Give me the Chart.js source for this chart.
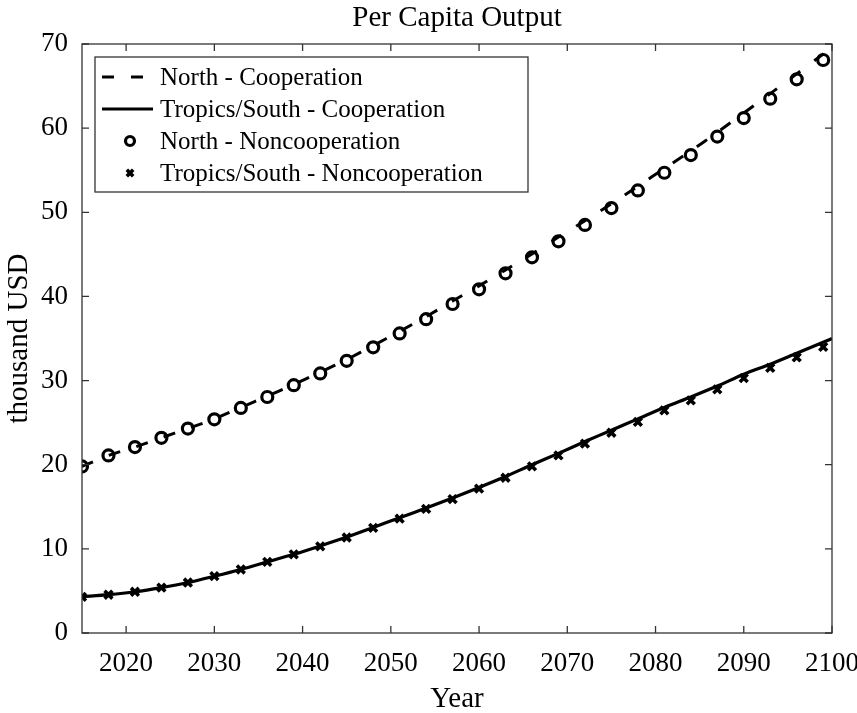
<!DOCTYPE html>
<html>
<head>
<meta charset="utf-8">
<script src="https://cdn.jsdelivr.net/npm/chart.js@4"></script>
<style>
  body { margin: 0; background: #fff; }
  #wrap { width: 857px; height: 713px; }
</style>
</head>
<body>
<div id="wrap"><canvas id="canvas"></canvas></div>
<script>
// years sampled by the noncooperation runs (every 3 years)
const markerYears = [2015, 2018, 2021, 2024, 2027, 2030, 2033, 2036, 2039, 2042, 2045, 2048, 2051, 2054,
  2057, 2060, 2063, 2066, 2069, 2072, 2075, 2078, 2081, 2084, 2087, 2090, 2093, 2096, 2099];
const northNoncoop = [19.8, 21.1, 22.1, 23.2, 24.3, 25.4, 26.75, 28.05, 29.45, 30.85, 32.35, 33.95, 35.6, 37.3,
  39.1, 40.85, 42.75, 44.65, 46.55, 48.5, 50.5, 52.6, 54.7, 56.8, 59.0, 61.2, 63.5, 65.8, 68.1];
const southNoncoop = [4.3, 4.55, 4.9, 5.4, 6.0, 6.75, 7.55, 8.45, 9.35, 10.3, 11.35, 12.5, 13.6, 14.75,
  15.9, 17.15, 18.45, 19.8, 21.1, 22.5, 23.8, 25.1, 26.45, 27.65, 28.95, 30.3, 31.5, 32.75, 34.0];

// cooperation paths run out to 2100
const lineYears = markerYears.concat([2100]);
const northCoop = [19.8, 21.1, 22.1, 23.2, 24.3, 25.45, 26.8, 28.15, 29.55, 31.0, 32.5, 34.15, 35.85, 37.6,
  39.45, 41.25, 43.15, 45.05, 47.05, 49.0, 51.0, 53.1, 55.2, 57.3, 59.5, 61.8, 64.1, 66.45, 68.8, 69.6];
const southCoop = [4.3, 4.55, 4.9, 5.4, 6.0, 6.75, 7.55, 8.45, 9.35, 10.35, 11.4, 12.55, 13.7, 14.85,
  16.05, 17.3, 18.6, 20.0, 21.35, 22.75, 24.1, 25.45, 26.8, 28.05, 29.35, 30.75, 31.95, 33.25, 34.55, 35.0];

const yearTicks = [2020, 2030, 2040, 2050, 2060, 2070, 2080, 2090, 2100];
const valueTicks = [0, 10, 20, 30, 40, 50, 60, 70];

const serif = '"Liberation Serif", "Times New Roman", serif';
const pts = (xs, ys) => xs.map((x, i) => ({ x: x, y: ys[i] }));

// axes box with inward ticks on all four sides
const frame = {
  id: 'frame',
  afterDatasetsDraw(chart) {
    const { ctx, chartArea: a, scales } = chart;
    ctx.save();
    ctx.strokeStyle = '#333';
    ctx.lineWidth = 1.3;
    ctx.strokeRect(a.left, a.top, a.right - a.left, a.bottom - a.top);
    ctx.beginPath();
    yearTicks.forEach((t) => {
      const px = scales.x.getPixelForValue(t);
      ctx.moveTo(px, a.bottom); ctx.lineTo(px, a.bottom - 7);
      ctx.moveTo(px, a.top); ctx.lineTo(px, a.top + 7);
    });
    valueTicks.forEach((t) => {
      const py = scales.y.getPixelForValue(t);
      ctx.moveTo(a.left, py); ctx.lineTo(a.left + 7, py);
      ctx.moveTo(a.right, py); ctx.lineTo(a.right - 7, py);
    });
    ctx.stroke();
    ctx.restore();
  }
};

// boxed legend in the upper left corner of the plot
const boxLegend = {
  id: 'boxLegend',
  afterDraw(chart) {
    const ctx = chart.ctx;
    const a = chart.chartArea;
    const x0 = a.left + 13, y0 = a.top + 13, w = 433, h = 135;
    ctx.save();
    ctx.fillStyle = '#fff';
    ctx.fillRect(x0, y0, w, h);
    ctx.strokeStyle = '#333';
    ctx.lineWidth = 1.3;
    ctx.strokeRect(x0, y0, w, h);
    ctx.font = '25px ' + serif;
    ctx.textBaseline = 'middle';
    chart.data.datasets.forEach((ds, i) => {
      const cy = y0 + 20 + i * 32;
      ctx.strokeStyle = '#000';
      if (ds.showLine !== false) {
        ctx.lineWidth = ds.borderWidth;
        ctx.setLineDash(ds.borderDash || []);
        ctx.beginPath();
        ctx.moveTo(x0 + 7, cy);
        ctx.lineTo(x0 + (ds.borderDash ? 48 : 58), cy);
        ctx.stroke();
        ctx.setLineDash([]);
      } else {
        ctx.fillStyle = ds.backgroundColor;
        ctx.lineWidth = ds.borderWidth;
        Chart.helpers.drawPoint(ctx, {
          pointStyle: ds.pointStyle,
          radius: ds.pointRadius - 1,
          borderWidth: ds.borderWidth
        }, x0 + 35, cy);
      }
      ctx.fillStyle = '#000';
      ctx.fillText(ds.label, x0 + 65, cy + 1);
    });
    ctx.restore();
  }
};

new Chart(document.getElementById('canvas'), {
  type: 'scatter',
  data: {
    datasets: [
      {
        label: 'North - Cooperation',
        data: pts(lineYears, northCoop),
        showLine: true,
        borderColor: '#000',
        borderWidth: 3,
        borderDash: [12, 17],
        pointRadius: 0,
        tension: 0.3,
      },
      {
        label: 'Tropics/South - Cooperation',
        data: pts(lineYears, southCoop),
        showLine: true,
        borderColor: '#000',
        borderWidth: 3.2,
        pointRadius: 0,
        tension: 0.3,
      },
      {
        label: 'North - Noncooperation',
        data: pts(markerYears, northNoncoop),
        showLine: false,
        pointStyle: 'circle',
        pointRadius: 5.5,
        borderWidth: 3.2,
        borderColor: '#000',
        backgroundColor: 'rgba(0,0,0,0)',
      },
      {
        label: 'Tropics/South - Noncooperation',
        data: pts(markerYears, southNoncoop),
        showLine: false,
        pointStyle: 'crossRot',
        pointRadius: 5.5,
        borderWidth: 3.6,
        borderColor: '#000',
        backgroundColor: '#000',
      },
    ],
  },
  plugins: [frame, boxLegend],
  options: {
    responsive: true,
    maintainAspectRatio: false,
    animation: false,
    layout: { padding: { left: 0, right: 25, top: 0, bottom: 0 } },
    plugins: {
      legend: { display: false },
      tooltip: { enabled: false },
      title: {
        display: true,
        fullSize: false,
        text: 'Per Capita Output',
        color: '#000',
        font: { family: serif, size: 29, weight: 'normal', lineHeight: 1.2 },
        padding: { top: 1, bottom: 8.2 },
      },
    },
    scales: {
      x: {
        type: 'linear',
        min: 2015,
        max: 2100,
        afterBuildTicks: (scale) => { scale.ticks = yearTicks.map((v) => ({ value: v })); },
        afterFit: (scale) => { scale.height = 80; scale.paddingLeft = 0; scale.paddingRight = 0; },
        grid: { display: false, drawTicks: false },
        border: { display: false },
        ticks: {
          color: '#000',
          font: { family: serif, size: 27 },
          padding: 15,
          maxRotation: 0,
          callback: (v) => String(v),
        },
        title: {
          display: true,
          text: 'Year',
          color: '#000',
          font: { family: serif, size: 29 },
          padding: { top: 0, bottom: -4 },
        },
      },
      y: {
        min: 0,
        max: 70,
        afterBuildTicks: (scale) => { scale.ticks = valueTicks.map((v) => ({ value: v })); },
        afterFit: (scale) => { scale.width = 82; },
        grid: { display: false, drawTicks: false },
        border: { display: false },
        ticks: { color: '#000', font: { family: serif, size: 27 }, padding: 14 },
        title: {
          display: true,
          text: 'thousand USD',
          color: '#000',
          font: { family: serif, size: 29 },
          padding: { top: 2, bottom: 0 },
        },
      },
    },
  },
});
</script>
</body>
</html>
